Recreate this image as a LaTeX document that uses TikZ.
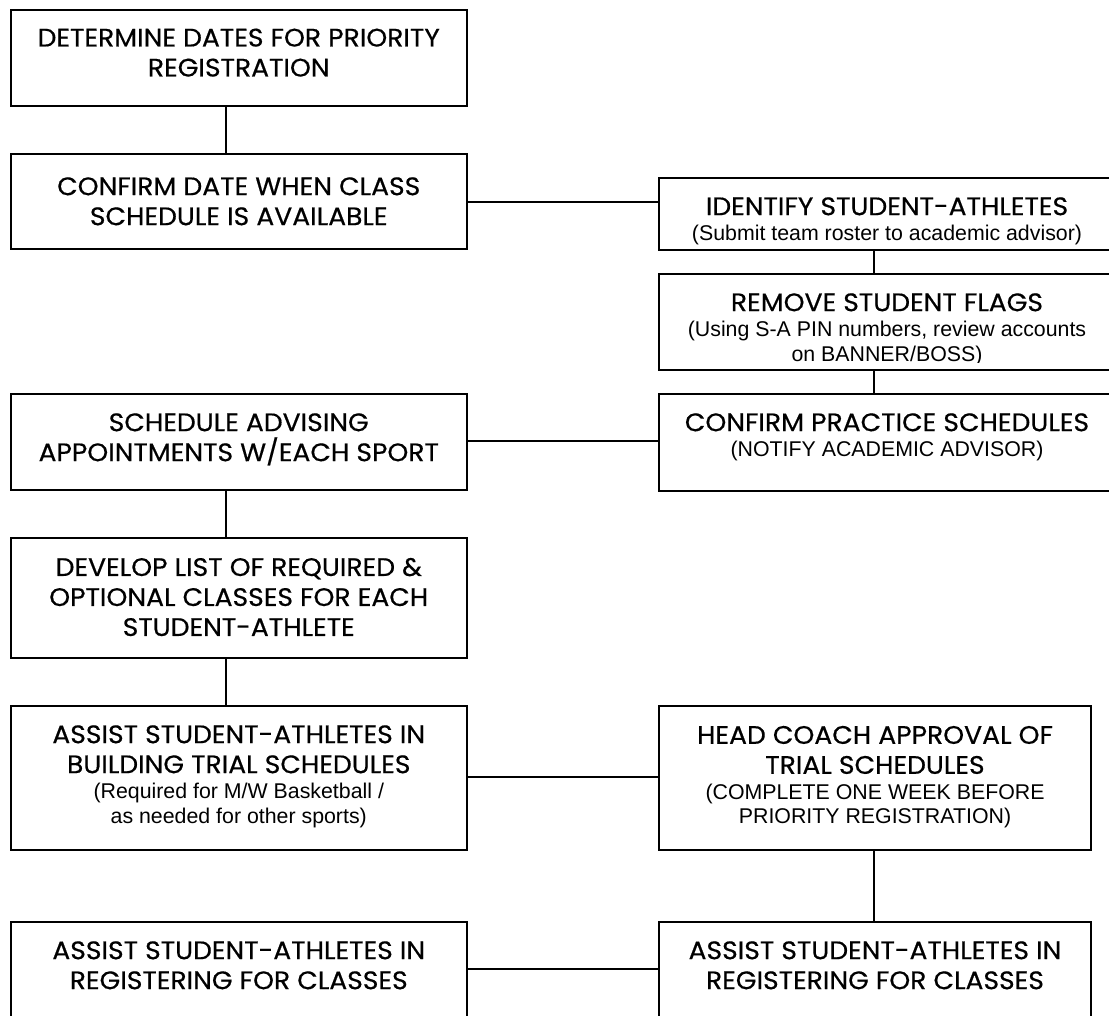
\documentclass[tikz,border=0pt]{standalone}
\usepackage{fontspec}
\newfontfamily\mainff[FakeStretch=1.05,FakeBold=0.5]{Poppins}
\newfontfamily\subff{Liberation Sans}
\newcommand\mainf{\mainff\fontsize{19}{22.5}\selectfont}
\newcommand\subf{\subff\fontsize{16}{18}\selectfont}
\begin{document}
\begin{tikzpicture}[x=0.75pt,y=-0.75pt,
  box/.style={draw=black,line width=1.5pt,inner sep=0pt,anchor=north west,fill=none},
  conn/.style={draw=black,line width=1.1pt},
  txt/.style={anchor=north,align=center,inner sep=0pt,font=\mainf,text=black}]
\useasboundingbox (0,0) rectangle (1109,1015);
\clip (0,0) rectangle (1109,1015);
% boxes
\node[box,minimum width=342.4pt,minimum height=72pt]    (b1) at (9.5,9)   {};
\node[box,minimum width=342.4pt,minimum height=71.25pt] (b2) at (9.5,153) {};
\node[box,minimum width=342pt,minimum height=54pt]      (r1) at (658,177) {};
\node[box,minimum width=342pt,minimum height=72pt]      (r2) at (658,273) {};
\node[box,minimum width=342pt,minimum height=72.75pt]   (r3) at (658,393) {};
\node[box,minimum width=342.4pt,minimum height=72pt]    (l3) at (9.5,393) {};
\node[box,minimum width=342.4pt,minimum height=90pt]    (l4) at (9.5,537) {};
\node[box,minimum width=342.4pt,minimum height=108pt]   (l5) at (9.5,705) {};
\node[box,minimum width=324pt,minimum height=108pt]     (r4) at (658,705) {};
\node[box,minimum width=342.4pt,minimum height=90pt]    (l6) at (9.5,921) {};
\node[box,minimum width=324pt,minimum height=90pt]      (r5) at (658,921) {};
% guide coordinates
\coordinate (lx) at (226,0);
\coordinate (rx) at (874,0);
\coordinate (h1) at (0,202);
\coordinate (h2) at (0,441);
\coordinate (h3) at (0,777);
\coordinate (h4) at (0,969);
% connectors
\draw[conn] (b1.south -| lx) -- (b2.north -| lx);
\draw[conn] (r1.south -| rx) -- (r2.north -| rx);
\draw[conn] (r2.south -| rx) -- (r3.north -| rx);
\draw[conn] (l3.south -| lx) -- (l4.north -| lx);
\draw[conn] (l4.south -| lx) -- (l5.north -| lx);
\draw[conn] (r4.south -| rx) -- (r5.north -| rx);
\draw[conn] (b2.east |- h1) -- (r1.west |- h1);
\draw[conn] (l3.east |- h2) -- (r3.west |- h2);
\draw[conn] (l5.east |- h3) -- (r4.west |- h3);
\draw[conn] (l6.east |- h4) -- (r5.west |- h4);
% texts
\node[txt] (tb1) at ([yshift=-14.5pt]b1.north) {DETERMINE DATES FOR PRIORITY\\REGISTRATION};
\node[txt] (tb2) at ([yshift=-18pt]b2.north) {CONFIRM DATE WHEN CLASS\\SCHEDULE IS AVAILABLE};
\node[txt] (tr1) at ([yshift=-15pt]r1.north) {IDENTIFY STUDENT-ATHLETES\\[-3.5pt]\subf (Submit team roster to academic advisor)};
\begin{scope}
\clip (r2.north west) rectangle ([yshift=6.5pt]r2.south east);
\node[txt] (tr2) at ([yshift=-15pt]r2.north) {REMOVE STUDENT FLAGS\\[-3.5pt]\subf (Using S-A PIN numbers, review accounts\\[-4pt]\subf on BANNER/BOSS)};
\end{scope}
\node[txt] (tr3) at ([yshift=-15pt]r3.north) {CONFIRM PRACTICE SCHEDULES\\[-3.5pt]\subf (NOTIFY ACADEMIC ADVISOR)};
\node[txt] (tl3) at ([yshift=-15pt]l3.north) {SCHEDULE ADVISING\\APPOINTMENTS W/EACH SPORT};
\node[txt] (tl4) at ([yshift=-15.5pt]l4.north) {DEVELOP LIST OF REQUIRED \&\\OPTIONAL CLASSES FOR EACH\\STUDENT-ATHLETE};
\node[txt] (tl5) at ([yshift=-15pt]l5.north) {ASSIST STUDENT-ATHLETES IN\\BUILDING TRIAL SCHEDULES\\[-3.5pt]\subf (Required for M/W Basketball /\\[-4pt]\subf as needed for other sports)};
\node[txt] (tr4) at ([yshift=-15.5pt]r4.north) {HEAD COACH APPROVAL OF\\TRIAL SCHEDULES\\[-3.5pt]\subf (COMPLETE ONE WEEK BEFORE\\[-4pt]\subf PRIORITY REGISTRATION)};
\node[txt] (tl6) at ([yshift=-15pt]l6.north) {ASSIST STUDENT-ATHLETES IN\\REGISTERING FOR CLASSES};
\node[txt] (tr5) at ([yshift=-15pt]r5.north) {ASSIST STUDENT-ATHLETES IN\\REGISTERING FOR CLASSES};
\end{tikzpicture}
\end{document}
